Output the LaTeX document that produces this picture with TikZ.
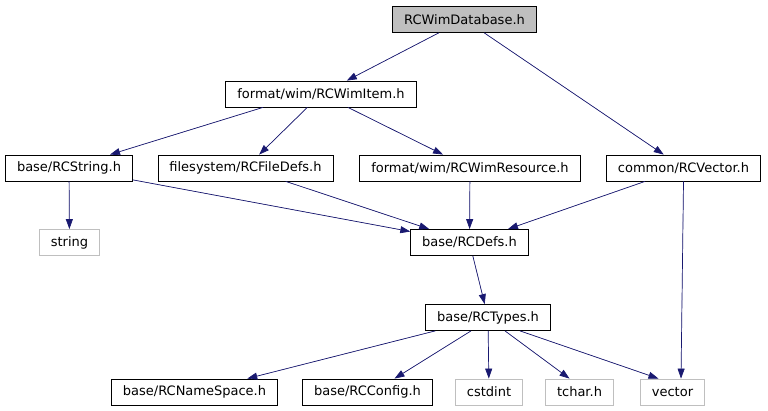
\documentclass[tikz,border=0pt]{standalone}
\usepackage{fontspec}
\setmainfont{DejaVu Sans}
\usetikzlibrary{arrows.meta,calc}
\definecolor{edgeblue}{HTML}{191970}
\definecolor{greyline}{HTML}{BFBFBF}
\begin{document}
\begin{tikzpicture}[x=1pt,y=-1pt,
  box/.style={draw=black,line width=0.8pt,inner xsep=11.5pt,inner ysep=0pt,minimum height=26pt,
    font=\fontsize{13}{15}\selectfont,text=black},
  mainbox/.style={box,fill=greyline},
  extbox/.style={box,draw=greyline},
  dep/.style={draw=edgeblue,line width=0.7pt,-{Triangle[length=10pt,width=7pt]},fill=edgeblue}]
\useasboundingbox (0,0) rectangle (768,411);
\node[mainbox] (db) at (464.5,19.5) {RCWimDatabase.h};
\node[box] (item) at (321,94) {format/wim/RCWimItem.h};
\node[box] (str) at (69,168) {base/RCString.h};
\node[box] (fdefs) at (245.5,168) {filesystem/RCFileDefs.h};
\node[box] (res) at (470,168) {format/wim/RCWimResource.h};
\node[box] (vec) at (683.5,168) {common/RCVector.h};
\node[extbox] (string) at (69.5,242.5) {string};
\node[box] (defs) at (469.5,242.5) {base/RCDefs.h};
\node[box] (types) at (488,317.5) {base/RCTypes.h};
\node[box] (ns) at (194.5,392) {base/RCNameSpace.h};
\node[box] (cfg) at (367.5,392) {base/RCConfig.h};
\node[extbox] (cstdint) at (489,392) {cstdint};
\node[extbox] (tchar) at (579.5,392) {tchar.h};
\node[extbox] (vector) at (672.5,392) {vector};

\draw[dep] (db) -- (item);
\draw[dep] (db) -- (vec);
\draw[dep] ($(item.south)+(-58,0)$) -- ($(str.north)+(41,0)$);
\draw[dep] (item) -- (fdefs);
\draw[dep] (item) -- (res);
\draw[dep] (str) -- (string);
\draw[dep] (str) -- (defs);
\draw[dep] (fdefs) -- (defs);
\draw[dep] (res) -- (defs);
\draw[dep] (vec) -- (defs);
\draw[dep] (vec.south) -- ($(vector.north)+(8.5,0)$);
\draw[dep] (defs) -- (types);
\draw[dep] (types) -- (ns);
\draw[dep] ($(types.south)+(-17,0)$) -- ($(cfg.north)+(27,0)$);
\draw[dep] (types) -- (cstdint);
\draw[dep] ($(types.south)+(17,0)$) -- ($(tchar.north)+(-10,0)$);
\draw[dep] ($(types.south)+(32,0)$) -- ($(vector.north)+(-14,0)$);
\end{tikzpicture}
\end{document}
